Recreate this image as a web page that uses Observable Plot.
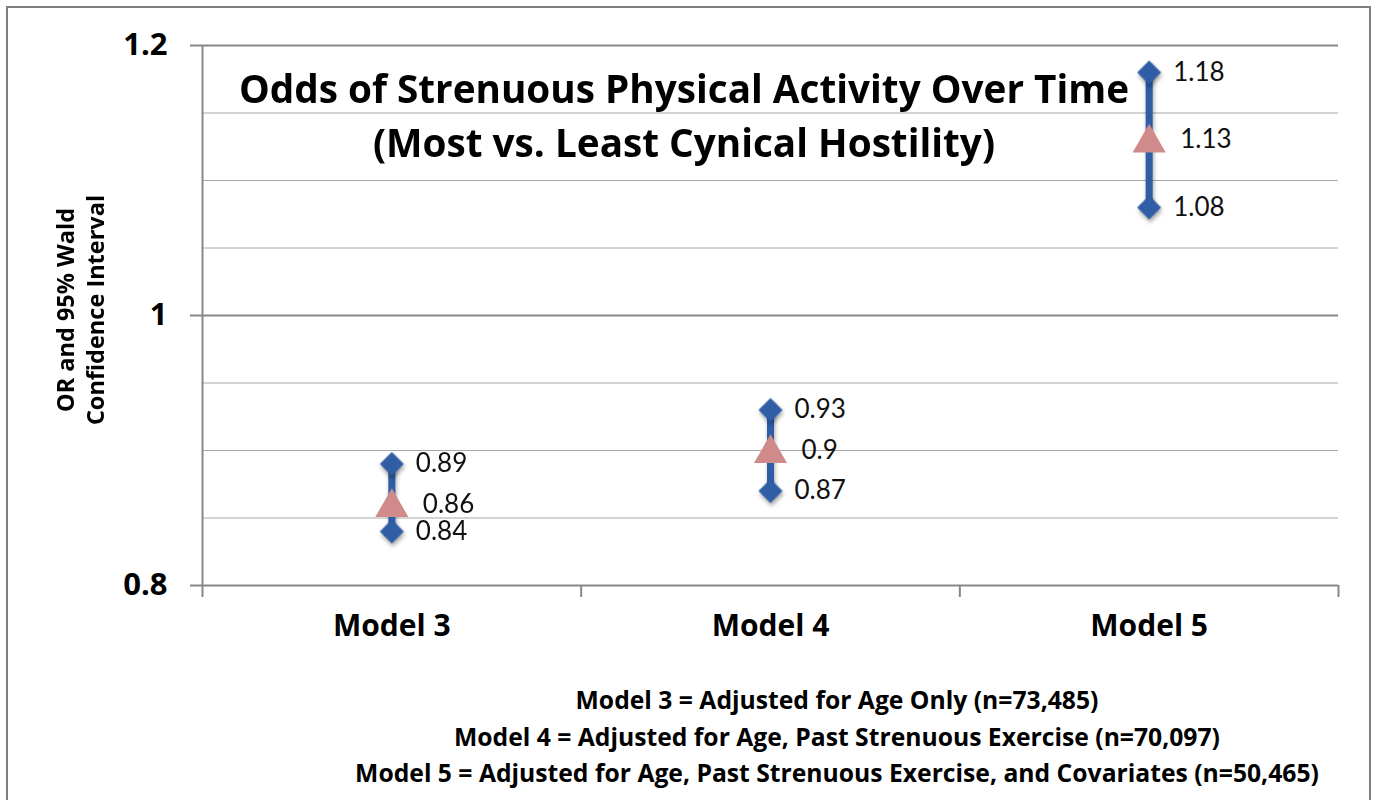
<!DOCTYPE html>
<html>
<head>
<meta charset="utf-8">
<script src="https://cdn.jsdelivr.net/npm/d3@7"></script>
<script src="https://cdn.jsdelivr.net/npm/@observablehq/plot@0.6"></script>
<style>
  html, body { margin: 0; padding: 0; background: #fff; }
  #wrap { position: relative; width: 1376px; height: 800px; overflow: hidden; font-family: "Open Sans", Lato, sans-serif; }
  #border { position: absolute; left: 6px; top: 6px; width: 1365px; height: 900px; border: 2.5px solid #7f7f7f; box-sizing: border-box; pointer-events: none; }
  #title { position: absolute; left: 0; top: 61px; width: 1368px; text-align: center; font-weight: 700; font-size: 38.7px; line-height: 54px; color: #000; }
  #ylabel { position: absolute; left: -70px; top: 280px; width: 300px; height: 60px; line-height: 30px; text-align: center; font-weight: 700; font-size: 23.5px; transform: rotate(-90deg); color: #000; }
  #notes { position: absolute; left: 337px; top: 682px; width: 1000px; text-align: center; font-weight: 700; font-size: 24.7px; line-height: 36.5px; color: #000; }
  svg g[aria-label="dot"][fill="#2f5da6"], svg g[aria-label="rule"][stroke="#2f5da6"] { filter: drop-shadow(1px 3px 2px rgba(0,0,0,0.35)); }
</style>
</head>
<body>
<div id="wrap">
  <div id="chart"></div>
  <div id="title"></div>
  <div id="ylabel"></div>
  <div id="notes"></div>
  <div id="border"></div>
</div>
<script>
const categories = ["Model 3", "Model 4", "Model 5"];
const orValues = [0.86, 0.9, 1.13];
const lowValues = [0.84, 0.87, 1.08];
const highValues = [0.89, 0.93, 1.18];
const majorTicks = [0.8, 1.0, 1.2];
const majorTickLabels = ["0.8", "1", "1.2"];
const minorTicks = [0.85, 0.9, 0.95, 1.05, 1.1, 1.15];
const titleLines = ["Odds of Strenuous Physical Activity Over Time", "(Most vs. Least Cynical Hostility)"];
const yLabelLines = ["OR and 95% Wald", "Confidence Interval"];
const noteLines = [
  "Model 3 = Adjusted for Age Only (n=73,485)",
  "Model 4 = Adjusted for Age, Past Strenuous Exercise (n=70,097)",
  "Model 5 = Adjusted for Age, Past Strenuous Exercise, and Covariates (n=50,465)"
];

const blue = "#2f5da6";
const pink = "#d08a8a";
const gridMinor = "#a8a8a8";
const gridMajor = "#878787";
const boldFont = "'Open Sans', Lato, sans-serif";
const labelFont = "Lato, 'Open Sans', sans-serif";

const data = categories.map((c, i) => ({
  pos: i + 0.5, label: c, or: orValues[i], low: lowValues[i], high: highValues[i]
}));
const boundaries = d3.range(categories.length + 1);
const centers = data.map(d => d.pos);

const chart = Plot.plot({
  width: 1376,
  height: 800,
  marginLeft: 202,
  marginRight: 38,
  marginTop: 45,
  marginBottom: 215,
  style: { fontFamily: labelFont, color: "#000", background: "transparent" },
  x: { domain: [0, categories.length] },
  y: { domain: [0.8, 1.2] },
  marks: [
    Plot.ruleY(minorTicks, { stroke: gridMinor, strokeWidth: 1 }),
    Plot.ruleY(majorTicks, { stroke: gridMajor, strokeWidth: 2 }),
    Plot.ruleX([0], { stroke: gridMajor, strokeWidth: 2 }),
    Plot.axisY({ ticks: majorTicks, tickSize: 12, tickPadding: 23, stroke: gridMajor, strokeWidth: 2,
      tickFormat: d => majorTickLabels[majorTicks.indexOf(d)], fontSize: 31, fontWeight: "bold", fontFamily: boldFont, label: null }),
    Plot.axisX({ ticks: boundaries, tickSize: 12, stroke: gridMajor, strokeWidth: 2, tickFormat: () => "", label: null }),
    Plot.axisX({ ticks: centers, tickSize: 0, tickPadding: 29, fontSize: 30, fontWeight: "bold", fontFamily: boldFont,
      tickFormat: d => categories[Math.floor(d)], label: null }),
    Plot.ruleX(data, { x: "pos", y1: "low", y2: "high", stroke: blue, strokeWidth: 7 }),
    Plot.dot(data, { x: "pos", y: "low", symbol: "diamond2", r: 10.8, fill: blue, stroke: "none" }),
    Plot.dot(data, { x: "pos", y: "high", symbol: "diamond2", r: 10.8, fill: blue, stroke: "none" }),
    Plot.dot(data, { x: "pos", y: "or", symbol: "triangle", r: 12.3, fill: pink, stroke: "none", dy: 3 }),
    Plot.text(data, { x: "pos", y: "high", text: d => String(d.high), dx: 24, textAnchor: "start", fontSize: 26, fill: "#111" }),
    Plot.text(data, { x: "pos", y: "low", text: d => String(d.low), dx: 24, textAnchor: "start", fontSize: 26, fill: "#111" }),
    Plot.text(data, { x: "pos", y: "or", text: d => String(d.or), dx: 31, textAnchor: "start", fontSize: 26, fill: "#111" })
  ]
});
document.getElementById("chart").appendChild(chart);
document.getElementById("title").innerHTML = titleLines.join("<br>");
document.getElementById("ylabel").innerHTML = yLabelLines.join("<br>");
document.getElementById("notes").innerHTML = noteLines.join("<br>");
</script>
</body>
</html>
